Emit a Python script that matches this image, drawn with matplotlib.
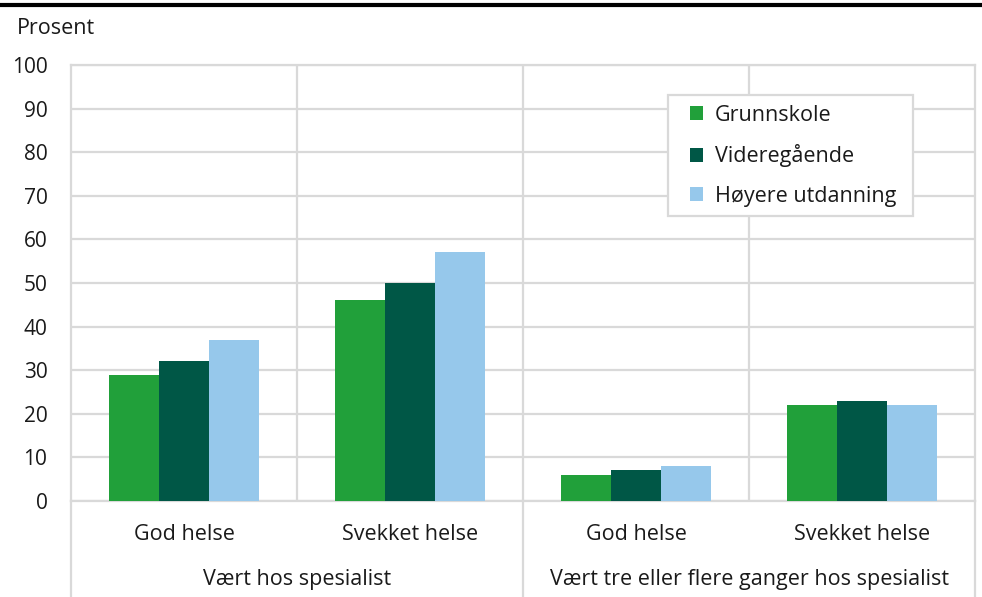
import matplotlib
matplotlib.use("Agg")
import matplotlib.pyplot as plt
import matplotlib.transforms as mtransforms
from matplotlib.lines import Line2D
from matplotlib.patches import Rectangle
import numpy as np

plt.rcParams['font.family'] = ['Open Sans', 'DejaVu Sans']

categories = ["God helse", "Svekket helse", "God helse", "Svekket helse"]
groups = ["Vært hos spesialist", "Vært tre eller flere ganger hos spesialist"]
series_names = ["Grunnskole", "Videregående", "Høyere utdanning"]
grunnskole = [29, 46, 6, 22]
videregaende = [32, 50, 7, 23]
hoyere = [37, 57, 8, 22]
y_ticks = [0, 10, 20, 30, 40, 50, 60, 70, 80, 90, 100]
y_label = "Prosent"

colors = ["#21A03A", "#005746", "#96C8EB"]
grid_c = "#d9d9d9"
text_c = "#1a1a1a"
FS = 15.5
W, H = 982, 597
fig = plt.figure(figsize=(W / 100, H / 100), dpi=100)
L, R, T, B = 71, 975, 65, 501
ax = fig.add_axes([L / W, (H - B) / H, (R - L) / W, (B - T) / H])

x = np.arange(len(categories))
bw = 50 / 226
handles = []
for i, (vals, name) in enumerate(zip([grunnskole, videregaende, hoyere], series_names)):
    h = ax.bar(x + (i - 1) * bw, vals, width=bw, color=colors[i], label=name, zorder=3)
    handles.append(h)

ax.set_xlim(-0.5, len(categories) - 0.5)
ax.set_ylim(0, 100)
ax.set_yticks(y_ticks)
ax.set_yticklabels([str(v) for v in y_ticks], fontsize=15, color=text_c)
ax.tick_params(axis='y', length=0, pad=17)
ax.set_xticks([])
ax.grid(axis='y', color=grid_c, lw=1.6, zorder=0)
for xv in [0.5, 1.5, 2.5]:
    ax.axvline(xv, color=grid_c, lw=1.6, zorder=0)
for s in ax.spines.values():
    s.set_color(grid_c)
    s.set_linewidth(1.6)

trans = mtransforms.blended_transform_factory(ax.transData, ax.transAxes)
ybot = -(H - B) / (B - T)
for xv in [-0.5, 1.5, 3.5]:
    ax.add_line(Line2D([xv, xv], [0, ybot], transform=trans, color=grid_c, lw=1.6, clip_on=False))

y1 = -(534 - B) / (B - T)
y2 = -(580 - B) / (B - T)
for xi, c in zip(x, categories):
    ax.text(xi, y1, c, transform=trans, ha='center', va='center', fontsize=FS, color=text_c)
for gi, g in enumerate(groups):
    ax.text(gi * 2 + 0.5, y2, g, transform=trans, ha='center', va='center', fontsize=FS, color=text_c)

fig.text(17 / W, 1 - 29 / H, y_label, ha='left', va='center', fontsize=FS, color=text_c)
fig.add_artist(Line2D([0, 981 / W], [1 - 5 / H, 1 - 5 / H], transform=fig.transFigure, color='black', lw=3))

# legend box
fig.add_artist(Rectangle((668 / W, 1 - 216 / H), (913 - 668) / W, (216 - 95) / H,
                         transform=fig.transFigure, facecolor='white', edgecolor=grid_c, lw=1.6, zorder=5))
leg = fig.legend(handles, series_names, loc='upper left', bbox_to_anchor=(690 / W, 1 - 105 / H),
                 bbox_transform=fig.transFigure,
                 fontsize=FS, frameon=False,
                 handlelength=0.62, handleheight=0.62, handletextpad=0.55, labelspacing=0.85,
                 borderpad=0, borderaxespad=0)
leg.set_zorder(6)
for t in leg.get_texts():
    t.set_color(text_c)

fig.savefig("out.png", dpi=100)
